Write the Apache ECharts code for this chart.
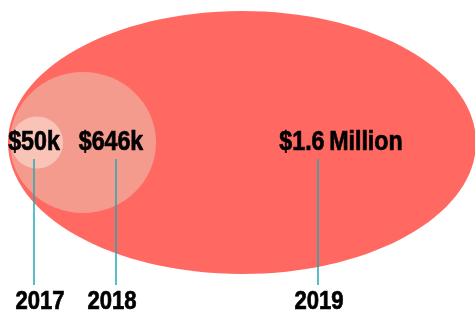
<!DOCTYPE html>
<html>
<head>
<meta charset="utf-8">
<script src="https://cdn.jsdelivr.net/npm/echarts@6/dist/echarts.min.js"></script>
<style>
  html, body { margin: 0; padding: 0; background: #fff; }
  #chart { width: 475px; height: 316px; }
</style>
</head>
<body>
<div id="chart"></div>
<script>
// data
const years = ['2017', '2018', '2019'];
const amounts = [50000, 646000, 1600000];
const amountLabels = ['$50k', '$646k', '$1.6\u2009Million'];

// layout (pixel space of the hidden axes), one per year
const ellipseCx = [37, 83, 242];
const ellipseRx = [26, 73, 234];
const ellipseRy = [26, 70.5, 131.5];
const centerY = 142.5;
const labelX = [34, 111, 341];
const leaderX = [34, 116, 318];
const yearX = [40, 112, 319];
const fills = ['#FAC3B8', '#F59B8E', '#FF6961'];

// no condensed face installed, so squeeze a bold sans horizontally
const FONT = '"Liberation Sans", Arial, sans-serif';

const chart = echarts.init(document.getElementById('chart'));

// biggest first so the smaller ellipses sit on top
const seriesData = years.map((y, i) => [i, amounts[i]]).reverse();

const option = {
  animation: false,
  grid: { left: 0, right: 0, top: 0, bottom: 0 },
  xAxis: { type: 'value', min: 0, max: 475, show: false },
  yAxis: { type: 'value', min: 0, max: 316, inverse: true, show: false },
  series: [{
    type: 'custom',
    data: seriesData,
    renderItem: (params, api) => {
      const i = api.value(0);
      const c = api.coord([ellipseCx[i], centerY]);
      const sz = api.size([ellipseRx[i], ellipseRy[i]]);
      const lx = api.coord([leaderX[i], 0])[0];
      const top = api.coord([0, 159])[1];
      const bottom = api.coord([0, 285])[1];
      return {
        type: 'group',
        children: [
          {
            type: 'ellipse',
            shape: { cx: c[0], cy: c[1], rx: sz[0], ry: sz[1] },
            style: { fill: fills[i] }
          },
          {
            type: 'line',
            shape: { x1: lx, y1: top, x2: lx, y2: bottom },
            style: { stroke: '#22A9B4', lineWidth: 1.5 }
          },
          {
            type: 'text',
            x: api.coord([labelX[i], 0])[0],
            y: api.coord([0, 143])[1],
            scaleX: 0.86,
            style: {
              text: amountLabels[i],
              font: 'bold 27px ' + FONT,
              fill: '#000',
              stroke: '#000',
              lineWidth: 0.7,
              align: 'center',
              verticalAlign: 'middle'
            }
          },
          {
            type: 'text',
            x: api.coord([yearX[i], 0])[0],
            y: api.coord([0, 301.5])[1],
            scaleX: 0.85,
            style: {
              text: years[i],
              font: 'bold 26px ' + FONT,
              fill: '#000',
              stroke: '#000',
              lineWidth: 0.7,
              align: 'center',
              verticalAlign: 'middle'
            }
          }
        ]
      };
    }
  }]
};

chart.setOption(option);
window.addEventListener('resize', chart.resize);
</script>
</body>
</html>
